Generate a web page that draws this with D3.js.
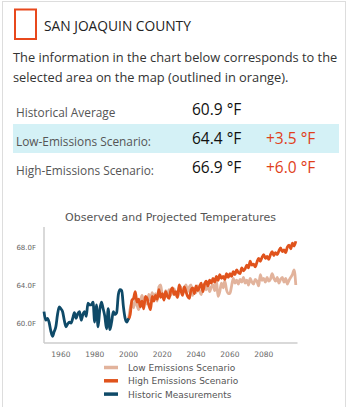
<!DOCTYPE html>
<html>
<head>
<meta charset="utf-8">
<script src="https://cdn.jsdelivr.net/npm/d3@7"></script>
<style>
  body { margin: 0; background: #fff; }
  svg { display: block; }
</style>
</head>
<body>
<svg width="350" height="407"></svg>
<script>
// historic measurements, 1950-2000
const histYears = d3.range(1950, 2001);
const histTemps = [61.3, 60.4, 60.6, 60.2, 59.3, 58.7, 59.2, 59.7, 61.0, 61.8,
  61.6, 61.3, 60.4, 59.7, 60.0, 60.2, 60.1, 60.6, 61.2, 60.6,
  61.1, 61.3, 60.4, 61.0, 61.3, 60.8, 62.2, 62.0, 62.0, 62.3,
  60.2, 62.0, 59.7, 61.5, 62.3, 61.6, 60.8, 59.5, 61.6, 59.4,
  60.2, 61.3, 61.0, 61.2, 63.1, 63.6, 63.5, 61.8, 60.6, 60.2, 60.6];

// projections, 2000-2099
const projYears = d3.range(2000, 2100);
const lowTemps = [60.5, 61.6, 62.2, 61.7, 62.6, 62.0, 61.5, 62.4, 63.0, 62.3,
  62.8, 62.1, 63.1, 62.5, 63.3, 62.7, 63.2, 62.4, 63.9, 64.1,
  63.0, 62.6, 63.5, 62.9, 63.6, 63.0, 63.4, 63.7, 63.1, 62.8,
  63.5, 63.9, 63.2, 63.6, 64.1, 63.4, 63.9, 64.1, 63.0, 63.7,
  63.3, 64.0, 63.5, 63.1, 63.8, 64.2, 63.6, 64.0, 63.4, 63.9,
  64.1, 63.5, 64.6, 62.9, 63.4, 64.3, 63.8, 64.5, 63.6, 63.2,
  63.2, 64.0, 64.8, 64.3, 64.6, 64.2, 64.7, 64.4, 64.9, 64.3,
  64.6, 64.1, 64.8, 64.4, 64.2, 64.7, 64.5, 64.0, 65.2, 64.6,
  64.8, 64.4, 64.9, 64.5, 64.7, 65.3, 64.8, 64.5, 64.9, 64.3,
  64.7, 64.9, 64.4, 64.8, 64.2, 64.6, 64.9, 65.2, 65.7, 64.1];
const highTemps = [60.5, 61.0, 62.5, 62.7, 63.4, 62.3, 62.6, 61.8, 62.4, 61.6,
  62.9, 62.7, 62.0, 61.5, 62.9, 62.4, 63.0, 62.6, 63.6, 62.8,
  63.2, 62.5, 63.4, 62.9, 62.7, 63.5, 63.8, 63.1, 63.4, 62.8,
  64.1, 63.5, 63.0, 63.9, 63.4, 62.9, 62.7, 63.6, 63.8, 63.2,
  64.0, 63.5, 63.9, 64.3, 63.4, 64.2, 64.5, 64.0, 64.6, 64.3,
  64.8, 64.4, 65.0, 64.6, 65.2, 64.8, 65.0, 64.7, 65.3, 64.9,
  65.3, 65.0, 65.5, 65.2, 65.7, 65.4, 65.3, 65.9, 65.6, 65.8,
  66.2, 65.9, 66.6, 66.2, 66.3, 66.0, 66.5, 66.9, 66.6, 67.0,
  67.3, 66.9, 67.1, 66.8, 67.3, 67.6, 67.2, 67.5, 67.3, 67.7,
  68.0, 67.6, 67.8, 67.5, 68.1, 68.3, 67.9, 68.5, 68.2, 68.7];

const yTicks = [60, 64, 68];
const xTicks = [1960, 1980, 2000, 2020, 2040, 2060, 2080];

const summaryRows = [
  { label: "Historical Average", value: "60.9 °F", diff: "" },
  { label: "Low-Emissions Scenario:", value: "64.4 °F", diff: "+3.5 °F" },
  { label: "High-Emissions Scenario:", value: "66.9 °F", diff: "+6.0 °F" }
];
const legendItems = [
  { name: "Low Emissions Scenario", color: "#e2b39c" },
  { name: "High Emissions Scenario", color: "#e0531c" },
  { name: "Historic Measurements", color: "#0f4a68" }
];

const svg = d3.select("svg");

// shrink/grow a text's font size so it spans the given width
function fitWidth(sel, width) {
  const node = sel.node();
  const fs = parseFloat(sel.attr("font-size"));
  const w = node.getComputedTextLength();
  sel.attr("font-size", (fs * width / w).toFixed(2));
  return fs * width / w;
}

// card border
svg.append("rect")
  .attr("x", 2.5).attr("y", 1.5)
  .attr("width", 343).attr("height", 410)
  .attr("fill", "none")
  .attr("stroke", "#ddd");

// header
svg.append("rect")
  .attr("x", 15).attr("y", 9.5)
  .attr("width", 21).attr("height", 29.5)
  .attr("fill", "none")
  .attr("stroke", "#e8481c")
  .attr("stroke-width", 2);

const header = svg.append("text")
  .attr("x", 44).attr("y", 31)
  .attr("font-family", "Open Sans")
  .attr("font-size", 15)
  .attr("fill", "#222")
  .text("SAN JOAQUIN COUNTY");
fitWidth(header, 147);

const para = ["The information in the chart below corresponds to the",
  "selected area on the map (outlined in orange)."];
const paraText = svg.selectAll("text.para")
  .data(para)
  .enter()
  .append("text")
  .attr("class", "para")
  .attr("x", 13)
  .attr("y", (d, i) => 62 + i * 20)
  .attr("font-family", "Open Sans")
  .attr("font-size", 13.6)
  .attr("fill", "#333")
  .text(d => d);
const paraSize = fitWidth(d3.select(paraText.nodes()[0]), 324);
paraText.attr("font-size", paraSize.toFixed(2));

// summary table
svg.append("rect")
  .attr("x", 13).attr("y", 124)
  .attr("width", 326).attr("height", 29)
  .attr("fill", "#d4f1f6");

const rows = svg.selectAll("g.row")
  .data(summaryRows)
  .enter()
  .append("g")
  .attr("class", "row")
  .attr("transform", (d, i) => "translate(0," + (117 + i * 29) + ")");

const labels = rows.append("text")
  .attr("x", 16)
  .attr("font-family", "Open Sans")
  .attr("font-size", 12.5)
  .attr("fill", "#555")
  .text(d => d.label);
const labelSize = fitWidth(d3.select(labels.nodes()[1]), 135);
labels.attr("font-size", labelSize.toFixed(2));

rows.append("text")
  .attr("x", 192).attr("y", -2)
  .attr("font-family", "Open Sans")
  .attr("font-size", 15.5)
  .attr("fill", "#111")
  .text(d => d.value);

rows.append("text")
  .attr("x", 266).attr("y", -2)
  .attr("font-family", "Open Sans")
  .attr("font-size", 15.5)
  .attr("fill", "#e0401a")
  .text(d => d.diff);

// chart
const title = svg.append("text")
  .attr("x", 170.5).attr("y", 220.5)
  .attr("text-anchor", "middle")
  .attr("font-family", "DejaVu Sans")
  .attr("font-size", 10.5)
  .attr("fill", "#555")
  .text("Observed and Projected Temperatures");
fitWidth(title, 211);

const x = d3.scaleLinear().domain([1950, 2100]).range([44, 297.5]);
const y = d3.scaleLinear().domain([58, 70.2]).range([343, 227]);

const g = svg.append("g");

g.append("line")
  .attr("x1", 44).attr("x2", 44)
  .attr("y1", y.range()[1]).attr("y2", y.range()[0])
  .attr("stroke", "#ccc").attr("stroke-width", 1.5);
g.append("line")
  .attr("x1", 44).attr("x2", 297.5)
  .attr("y1", 343).attr("y2", 343)
  .attr("stroke", "#ccc").attr("stroke-width", 1.5);

g.selectAll("text.ytick")
  .data(yTicks)
  .enter()
  .append("text")
  .attr("class", "ytick")
  .attr("x", 36)
  .attr("y", d => y(d) + 2.5)
  .attr("text-anchor", "end")
  .attr("font-family", "DejaVu Sans")
  .attr("font-size", 7)
  .attr("fill", "#666")
  .text(d => d.toFixed(1) + "F");

g.selectAll("text.xtick")
  .data(xTicks)
  .enter()
  .append("text")
  .attr("class", "xtick")
  .attr("x", d => x(d))
  .attr("y", 357)
  .attr("text-anchor", "middle")
  .attr("font-family", "DejaVu Sans")
  .attr("font-size", 7.5)
  .attr("fill", "#666")
  .text(d => d);

const line = d3.line()
  .x(d => x(d[0]))
  .y(d => y(d[1]))
  .curve(d3.curveMonotoneX);

g.append("path")
  .datum(d3.zip(projYears, lowTemps))
  .attr("fill", "none")
  .attr("stroke", legendItems[0].color)
  .attr("stroke-width", 2.8)
  .attr("stroke-linejoin", "round")
  .attr("d", line);

g.append("path")
  .datum(d3.zip(projYears, highTemps))
  .attr("fill", "none")
  .attr("stroke", legendItems[1].color)
  .attr("stroke-width", 2.8)
  .attr("stroke-linejoin", "round")
  .attr("d", line);

g.append("path")
  .datum(d3.zip(histYears, histTemps))
  .attr("fill", "none")
  .attr("stroke", legendItems[2].color)
  .attr("stroke-width", 2.8)
  .attr("stroke-linejoin", "round")
  .attr("d", line);

// legend
const leg = svg.selectAll("g.leg")
  .data(legendItems)
  .enter()
  .append("g")
  .attr("class", "leg")
  .attr("transform", (d, i) => "translate(0," + (367.5 + i * 13.3) + ")");

leg.append("line")
  .attr("x1", 104).attr("x2", 118)
  .attr("stroke", d => d.color)
  .attr("stroke-width", 3.5);

leg.append("text")
  .attr("x", 128).attr("y", 3.5)
  .attr("font-family", "DejaVu Sans")
  .attr("font-size", 9)
  .attr("fill", "#555")
  .text(d => d.name);
</script>
</body>
</html>
